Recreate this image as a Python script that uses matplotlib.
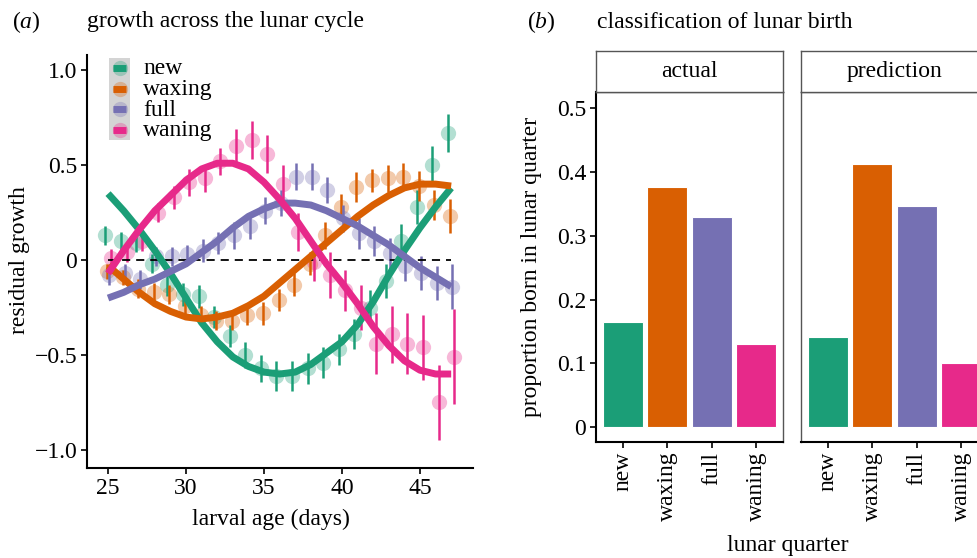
import numpy as np
import matplotlib.pyplot as plt

plt.rcParams['font.family'] = 'Liberation Serif'
plt.rcParams['font.size'] = 17
plt.rcParams['mathtext.fontset'] = 'custom'
plt.rcParams['mathtext.rm'] = 'Liberation Serif'
plt.rcParams['mathtext.it'] = 'Liberation Serif:italic'

W, H = 977, 558


def box(x0, y0, x1, y1):
    # pixel box (origin top-left) -> figure fraction rect
    return [x0 / W, 1 - y1 / H, (x1 - x0) / W, (y1 - y0) / H]


# ---- data: panel (a) ----
days = np.array(list(range(25, 48)))
quarters = ['new', 'waxing', 'full', 'waning']
colours = ['#1B9E77', '#D95F02', '#7570B3', '#E7298A']

new_mean = [0.13, 0.10, 0.09, -0.02, -0.13, -0.18, -0.19, -0.30, -0.40, -0.50, -0.57, -0.61,
            -0.61, -0.57, -0.54, -0.47, -0.39, -0.25, -0.11, 0.10, 0.28, 0.50, 0.67]
new_err = [0.05, 0.05, 0.05, 0.05, 0.06, 0.06, 0.06, 0.06, 0.06, 0.07, 0.07, 0.08,
           0.08, 0.08, 0.08, 0.08, 0.08, 0.09, 0.09, 0.09, 0.09, 0.10, 0.10]
new_fit = [0.35, 0.26, 0.16, 0.05, -0.07, -0.20, -0.33, -0.43, -0.51, -0.56, -0.59, -0.60,
           -0.59, -0.55, -0.49, -0.43, -0.34, -0.22, -0.08, 0.05, 0.17, 0.28, 0.38]

wax_mean = [-0.06, -0.09, -0.15, -0.17, -0.18, -0.24, -0.29, -0.32, -0.32, -0.29, -0.28, -0.21,
            -0.13, -0.02, 0.13, 0.28, 0.385, 0.42, 0.43, 0.44, 0.39, 0.29, 0.23]
wax_err = [0.04, 0.04, 0.05, 0.05, 0.05, 0.05, 0.05, 0.05, 0.05, 0.05, 0.06, 0.06,
           0.06, 0.06, 0.07, 0.07, 0.08, 0.06, 0.07, 0.07, 0.08, 0.08, 0.09]
wax_fit = [-0.03, -0.10, -0.17, -0.23, -0.27, -0.30, -0.31, -0.30, -0.28, -0.24, -0.19, -0.12,
           -0.05, 0.02, 0.09, 0.16, 0.23, 0.29, 0.34, 0.38, 0.40, 0.40, 0.39]

full_mean = [-0.08, -0.07, -0.10, 0.02, 0.02, 0.03, 0.05, 0.09, 0.13, 0.18, 0.26, 0.30,
             0.44, 0.44, 0.37, 0.22, 0.14, 0.10, 0.035, -0.03, -0.07, -0.12, -0.14]
full_err = [0.05, 0.05, 0.05, 0.05, 0.05, 0.05, 0.06, 0.06, 0.07, 0.07, 0.07, 0.07,
            0.07, 0.07, 0.07, 0.07, 0.08, 0.08, 0.08, 0.08, 0.09, 0.09, 0.12]
full_fit = [-0.20, -0.17, -0.13, -0.10, -0.06, -0.02, 0.04, 0.10, 0.17, 0.23, 0.27, 0.30,
            0.30, 0.29, 0.26, 0.22, 0.18, 0.13, 0.08, 0.02, -0.04, -0.09, -0.14]

wan_mean = [0.01, 0.04, 0.10, 0.25, 0.33, 0.41, 0.43, 0.52, 0.60, 0.63, 0.56, 0.40,
            0.15, -0.01, -0.08, -0.16, -0.25, -0.44, -0.39, -0.44, -0.46, -0.75, -0.51]
wan_err = [0.05, 0.05, 0.05, 0.05, 0.06, 0.07, 0.07, 0.07, 0.09, 0.10, 0.10, 0.10,
           0.10, 0.10, 0.12, 0.11, 0.12, 0.16, 0.15, 0.16, 0.17, 0.20, 0.25]
wan_fit = [-0.07, 0.05, 0.16, 0.26, 0.34, 0.42, 0.48, 0.51, 0.51, 0.48, 0.41, 0.32,
           0.22, 0.10, -0.02, -0.12, -0.23, -0.35, -0.45, -0.53, -0.58, -0.60, -0.60]

means = [new_mean, wax_mean, full_mean, wan_mean]
errs = [new_err, wax_err, full_err, wan_err]
fits = [new_fit, wax_fit, full_fit, wan_fit]

# ---- data: panel (b) ----
actual = [0.164, 0.376, 0.330, 0.130]
prediction = [0.141, 0.412, 0.346, 0.100]

fig = plt.figure(figsize=(W / 100, H / 100), dpi=100)

# ================= panel (a) =================
ax = fig.add_axes(box(87, 55, 473, 468))
dodge = [-0.2, -0.07, 0.07, 0.2]
for m, e, c, d in zip(means, errs, colours, dodge):
    ax.plot(days + d, m, 'o', ms=11, color=c, alpha=0.33, mec='none', zorder=2)
    ax.errorbar(days + d, m, yerr=e, fmt='none', ecolor=c, elinewidth=1.8, zorder=3)
ax.plot([25, 47], [0, 0], color='black', lw=1.3, dashes=(4.5, 3.3), zorder=4)
for f, c in zip(fits, colours):
    ax.plot(days, f, color=c, lw=5, solid_capstyle='butt', zorder=5)

ax.set_xlim(23.65, 48.4)
ax.set_ylim(-1.095, 1.08)
ax.set_xticks([25, 30, 35, 40, 45])
ax.set_yticks([-1.0, -0.5, 0, 0.5, 1.0])
ax.set_yticklabels(['\u22121.0', '\u22120.5', '0', '0.5', '1.0'])
for s in ['top', 'right']:
    ax.spines[s].set_visible(False)
for s in ['left', 'bottom']:
    ax.spines[s].set_linewidth(1.5)
ax.tick_params(length=4.5, width=1.2, pad=2.5)

# legend (grey key column, faint circle + thick line per key)
ax_leg = fig.add_axes(box(109, 58, 130, 140))
ax_leg.set_xlim(0, 1)
ax_leg.set_ylim(0, 4)
ax_leg.set_facecolor('#d4d4d4')
for s in ax_leg.spines.values():
    s.set_visible(False)
ax_leg.set_xticks([])
ax_leg.set_yticks([])
for i, (q, c) in enumerate(zip(quarters, colours)):
    yk = 3.5 - i
    ax_leg.plot([0.5], [yk], 'o', ms=11, color=c, alpha=0.3, mec='none')
    ax_leg.plot([0.18, 0.82], [yk, yk], color=c, lw=5, solid_capstyle='butt')
    fig.text(143 / W, 1 - (69 + 20.5 * i) / H, q, ha='left', va='center')

fig.text(12 / W, 1 - 22 / H, r'($\mathit{a}$)', ha='left', va='center')
fig.text(87 / W, 1 - 22 / H, 'growth across the lunar cycle', ha='left', va='center')
fig.text(20 / W, 1 - 260 / H, 'residual growth', rotation=90, ha='center', va='center')
fig.text(271 / W, 1 - 519 / H, 'larval age (days)', ha='center', va='center')

# ================= panel (b) =================
xpos = [1, 2, 3, 4]
panels = [('actual', actual, 596, 783), ('prediction', prediction, 801, 988)]
for k, (name, vals, x0, x1) in enumerate(panels):
    bx = fig.add_axes(box(x0, 92, x1, 442))
    bx.bar(xpos, vals, width=0.9, color=colours, edgecolor='white', linewidth=0.8)
    bx.set_xlim(0.4, 4.6)
    bx.set_ylim(-0.0235, 0.5256)
    bx.set_xticks(xpos)
    bx.set_xticklabels(quarters, rotation=90)
    for s in bx.spines.values():
        s.set_color('#555555')
        s.set_linewidth(1.0)
    bx.spines['bottom'].set_color('black')
    bx.spines['bottom'].set_linewidth(1.5)
    if k == 0:
        bx.spines['left'].set_color('black')
        bx.spines['left'].set_linewidth(1.5)
        bx.set_yticks([0, 0.1, 0.2, 0.3, 0.4, 0.5])
        bx.set_yticklabels(['0', '0.1', '0.2', '0.3', '0.4', '0.5'])
    else:
        bx.set_yticks([])
    bx.tick_params(length=4.5, width=1.2, pad=2.5)

    st = fig.add_axes(box(x0, 51, x1, 92))
    st.set_xticks([])
    st.set_yticks([])
    for s in st.spines.values():
        s.set_color('#555555')
        s.set_linewidth(1.0)
    st.text(0.5, 0.5, name, ha='center', va='center', transform=st.transAxes)

fig.text(527 / W, 1 - 22 / H, r'($\mathit{b}$)', ha='left', va='center')
fig.text(597 / W, 1 - 22 / H, 'classification of lunar birth', ha='left', va='center')
fig.text(532 / W, 1 - 267 / H, 'proportion born in lunar quarter', rotation=90,
         ha='center', va='center')
fig.text(788 / W, 1 - 546 / H, 'lunar quarter', ha='center', va='center')

fig.savefig('out.png', dpi=100)
